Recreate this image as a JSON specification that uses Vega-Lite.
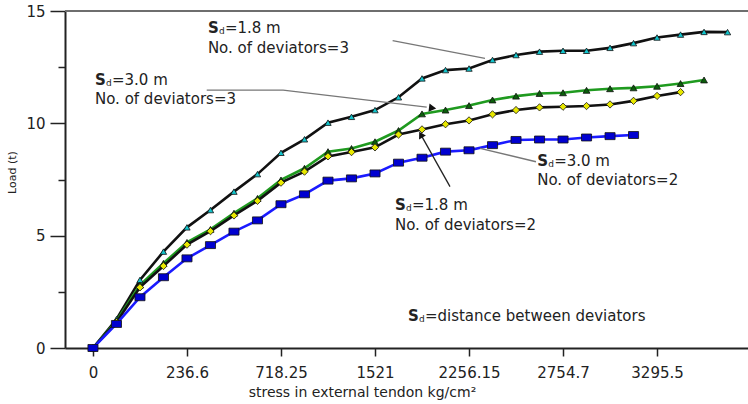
{
  "$schema": "https://vega.github.io/schema/vega-lite/v6.json",
  "width": 683,
  "height": 337,
  "autosize": "none",
  "padding": {"left": 65, "top": 11, "right": 0, "bottom": 56},
  "background": "white",
  "config": {
    "view": {"stroke": null},
    "font": "DejaVu Sans"
  },
  "datasets": {
    "series": [
      {"series": "Sd=1.8 m, 3 deviators", "i": 0, "load": 0},
      {"series": "Sd=1.8 m, 3 deviators", "i": 1, "load": 1.28},
      {"series": "Sd=1.8 m, 3 deviators", "i": 2, "load": 3.03},
      {"series": "Sd=1.8 m, 3 deviators", "i": 3, "load": 4.29},
      {"series": "Sd=1.8 m, 3 deviators", "i": 4, "load": 5.37},
      {"series": "Sd=1.8 m, 3 deviators", "i": 5, "load": 6.14},
      {"series": "Sd=1.8 m, 3 deviators", "i": 6, "load": 6.96},
      {"series": "Sd=1.8 m, 3 deviators", "i": 7, "load": 7.74},
      {"series": "Sd=1.8 m, 3 deviators", "i": 8, "load": 8.69},
      {"series": "Sd=1.8 m, 3 deviators", "i": 9, "load": 9.29},
      {"series": "Sd=1.8 m, 3 deviators", "i": 10, "load": 10.03},
      {"series": "Sd=1.8 m, 3 deviators", "i": 11, "load": 10.29},
      {"series": "Sd=1.8 m, 3 deviators", "i": 12, "load": 10.59},
      {"series": "Sd=1.8 m, 3 deviators", "i": 13, "load": 11.16},
      {"series": "Sd=1.8 m, 3 deviators", "i": 14, "load": 12.0},
      {"series": "Sd=1.8 m, 3 deviators", "i": 15, "load": 12.37},
      {"series": "Sd=1.8 m, 3 deviators", "i": 16, "load": 12.44},
      {"series": "Sd=1.8 m, 3 deviators", "i": 17, "load": 12.82},
      {"series": "Sd=1.8 m, 3 deviators", "i": 18, "load": 13.04},
      {"series": "Sd=1.8 m, 3 deviators", "i": 19, "load": 13.19},
      {"series": "Sd=1.8 m, 3 deviators", "i": 20, "load": 13.23},
      {"series": "Sd=1.8 m, 3 deviators", "i": 21, "load": 13.23},
      {"series": "Sd=1.8 m, 3 deviators", "i": 22, "load": 13.36},
      {"series": "Sd=1.8 m, 3 deviators", "i": 23, "load": 13.57},
      {"series": "Sd=1.8 m, 3 deviators", "i": 24, "load": 13.82},
      {"series": "Sd=1.8 m, 3 deviators", "i": 25, "load": 13.95},
      {"series": "Sd=1.8 m, 3 deviators", "i": 26, "load": 14.07},
      {"series": "Sd=1.8 m, 3 deviators", "i": 27, "load": 14.06},
      {"series": "Sd=3.0 m, 3 deviators", "i": 0, "load": 0},
      {"series": "Sd=3.0 m, 3 deviators", "i": 1, "load": 1.2},
      {"series": "Sd=3.0 m, 3 deviators", "i": 2, "load": 2.8},
      {"series": "Sd=3.0 m, 3 deviators", "i": 3, "load": 3.77},
      {"series": "Sd=3.0 m, 3 deviators", "i": 4, "load": 4.7},
      {"series": "Sd=3.0 m, 3 deviators", "i": 5, "load": 5.28},
      {"series": "Sd=3.0 m, 3 deviators", "i": 6, "load": 6.0},
      {"series": "Sd=3.0 m, 3 deviators", "i": 7, "load": 6.66},
      {"series": "Sd=3.0 m, 3 deviators", "i": 8, "load": 7.48},
      {"series": "Sd=3.0 m, 3 deviators", "i": 9, "load": 8.0},
      {"series": "Sd=3.0 m, 3 deviators", "i": 10, "load": 8.74},
      {"series": "Sd=3.0 m, 3 deviators", "i": 11, "load": 8.88},
      {"series": "Sd=3.0 m, 3 deviators", "i": 12, "load": 9.18},
      {"series": "Sd=3.0 m, 3 deviators", "i": 13, "load": 9.68},
      {"series": "Sd=3.0 m, 3 deviators", "i": 14, "load": 10.42},
      {"series": "Sd=3.0 m, 3 deviators", "i": 15, "load": 10.59},
      {"series": "Sd=3.0 m, 3 deviators", "i": 16, "load": 10.79},
      {"series": "Sd=3.0 m, 3 deviators", "i": 17, "load": 11.04},
      {"series": "Sd=3.0 m, 3 deviators", "i": 18, "load": 11.21},
      {"series": "Sd=3.0 m, 3 deviators", "i": 19, "load": 11.33},
      {"series": "Sd=3.0 m, 3 deviators", "i": 20, "load": 11.36},
      {"series": "Sd=3.0 m, 3 deviators", "i": 21, "load": 11.47},
      {"series": "Sd=3.0 m, 3 deviators", "i": 22, "load": 11.54},
      {"series": "Sd=3.0 m, 3 deviators", "i": 23, "load": 11.58},
      {"series": "Sd=3.0 m, 3 deviators", "i": 24, "load": 11.65},
      {"series": "Sd=3.0 m, 3 deviators", "i": 25, "load": 11.77},
      {"series": "Sd=3.0 m, 3 deviators", "i": 26, "load": 11.93},
      {"series": "Sd=1.8 m, 2 deviators", "i": 0, "load": 0},
      {"series": "Sd=1.8 m, 2 deviators", "i": 1, "load": 1.15},
      {"series": "Sd=1.8 m, 2 deviators", "i": 2, "load": 2.7},
      {"series": "Sd=1.8 m, 2 deviators", "i": 3, "load": 3.65},
      {"series": "Sd=1.8 m, 2 deviators", "i": 4, "load": 4.6},
      {"series": "Sd=1.8 m, 2 deviators", "i": 5, "load": 5.2},
      {"series": "Sd=1.8 m, 2 deviators", "i": 6, "load": 5.9},
      {"series": "Sd=1.8 m, 2 deviators", "i": 7, "load": 6.55},
      {"series": "Sd=1.8 m, 2 deviators", "i": 8, "load": 7.36},
      {"series": "Sd=1.8 m, 2 deviators", "i": 9, "load": 7.85},
      {"series": "Sd=1.8 m, 2 deviators", "i": 10, "load": 8.53},
      {"series": "Sd=1.8 m, 2 deviators", "i": 11, "load": 8.72},
      {"series": "Sd=1.8 m, 2 deviators", "i": 12, "load": 8.93},
      {"series": "Sd=1.8 m, 2 deviators", "i": 13, "load": 9.5},
      {"series": "Sd=1.8 m, 2 deviators", "i": 14, "load": 9.73},
      {"series": "Sd=1.8 m, 2 deviators", "i": 15, "load": 9.96},
      {"series": "Sd=1.8 m, 2 deviators", "i": 16, "load": 10.13},
      {"series": "Sd=1.8 m, 2 deviators", "i": 17, "load": 10.4},
      {"series": "Sd=1.8 m, 2 deviators", "i": 18, "load": 10.59},
      {"series": "Sd=1.8 m, 2 deviators", "i": 19, "load": 10.71},
      {"series": "Sd=1.8 m, 2 deviators", "i": 20, "load": 10.74},
      {"series": "Sd=1.8 m, 2 deviators", "i": 21, "load": 10.77},
      {"series": "Sd=1.8 m, 2 deviators", "i": 22, "load": 10.84},
      {"series": "Sd=1.8 m, 2 deviators", "i": 23, "load": 11.0},
      {"series": "Sd=1.8 m, 2 deviators", "i": 24, "load": 11.22},
      {"series": "Sd=1.8 m, 2 deviators", "i": 25, "load": 11.39},
      {"series": "Sd=3.0 m, 2 deviators", "i": 0, "load": 0},
      {"series": "Sd=3.0 m, 2 deviators", "i": 1, "load": 1.07},
      {"series": "Sd=3.0 m, 2 deviators", "i": 2, "load": 2.26},
      {"series": "Sd=3.0 m, 2 deviators", "i": 3, "load": 3.15},
      {"series": "Sd=3.0 m, 2 deviators", "i": 4, "load": 3.99},
      {"series": "Sd=3.0 m, 2 deviators", "i": 5, "load": 4.58},
      {"series": "Sd=3.0 m, 2 deviators", "i": 6, "load": 5.18},
      {"series": "Sd=3.0 m, 2 deviators", "i": 7, "load": 5.68},
      {"series": "Sd=3.0 m, 2 deviators", "i": 8, "load": 6.4},
      {"series": "Sd=3.0 m, 2 deviators", "i": 9, "load": 6.84},
      {"series": "Sd=3.0 m, 2 deviators", "i": 10, "load": 7.45},
      {"series": "Sd=3.0 m, 2 deviators", "i": 11, "load": 7.55},
      {"series": "Sd=3.0 m, 2 deviators", "i": 12, "load": 7.77},
      {"series": "Sd=3.0 m, 2 deviators", "i": 13, "load": 8.25},
      {"series": "Sd=3.0 m, 2 deviators", "i": 14, "load": 8.47},
      {"series": "Sd=3.0 m, 2 deviators", "i": 15, "load": 8.74},
      {"series": "Sd=3.0 m, 2 deviators", "i": 16, "load": 8.8},
      {"series": "Sd=3.0 m, 2 deviators", "i": 17, "load": 9.03},
      {"series": "Sd=3.0 m, 2 deviators", "i": 18, "load": 9.26},
      {"series": "Sd=3.0 m, 2 deviators", "i": 19, "load": 9.28},
      {"series": "Sd=3.0 m, 2 deviators", "i": 20, "load": 9.28},
      {"series": "Sd=3.0 m, 2 deviators", "i": 21, "load": 9.37},
      {"series": "Sd=3.0 m, 2 deviators", "i": 22, "load": 9.43},
      {"series": "Sd=3.0 m, 2 deviators", "i": 23, "load": 9.48}
    ],
    "grayLeaders": [
      {"id": "a", "ord": 0, "i": 12.75, "load": 13.68},
      {"id": "a", "ord": 1, "i": 16.68, "load": 12.89},
      {"id": "b", "ord": 0, "i": 4.84, "load": 11.48},
      {"id": "b", "ord": 1, "i": 8.09, "load": 11.48},
      {"id": "b", "ord": 2, "i": 14.2, "load": 10.72},
      {"id": "c", "ord": 0, "i": 16.47, "load": 8.89},
      {"id": "c", "ord": 1, "i": 18.85, "load": 8.29}
    ],
    "blackLeaders": [
      {"id": "d", "ord": 0, "i": 15.19, "load": 7.18},
      {"id": "d", "ord": 1, "i": 13.95, "load": 9.5}
    ],
    "sdLabels": [
      {"i": 4.89, "load": 14.24, "rest": "=1.8 m"},
      {"i": 0.085, "load": 11.93, "rest": "=3.0 m"},
      {"i": 18.9, "load": 8.32, "rest": "=3.0 m"},
      {"i": 12.85, "load": 6.36, "rest": "=1.8 m"},
      {"i": 13.4, "load": 1.42, "rest": "=distance between deviators"}
    ],
    "plainLabels": [
      {"i": 4.89, "load": 13.35, "text": "No. of deviators=3"},
      {"i": 0.085, "load": 11.08, "text": "No. of deviators=3"},
      {"i": 18.9, "load": 7.48, "text": "No. of deviators=2"},
      {"i": 12.85, "load": 5.47, "text": "No. of deviators=2"}
    ]
  },
  "data": {"name": "series"},
  "layer": [
    {
      "mark": {"type": "rule", "color": "#6e6e6e", "strokeWidth": 2},
      "encoding": {"y": {"datum": 15, "type": "quantitative"}}
    },
    {
      "mark": {"type": "line", "strokeWidth": 2.6},
      "encoding": {
        "x": {
          "field": "i",
          "type": "quantitative",
          "scale": {"domain": [-1.19, 27.87], "nice": false, "zero": false},
          "axis": {
            "values": [0, 4, 8, 12, 16, 20, 24],
            "labelExpr": "['0','236.6','718.25','1521','2256.15','2754.7','3295.5'][datum.value/4]",
            "title": "stress in external tendon kg/cm²",
            "titleFont": "DejaVu Sans",
            "titleFontSize": 14,
            "titleFontWeight": "normal",
            "titleColor": "#222",
            "titleX": 297,
            "titleY": 44,
            "titleBaseline": "middle",
            "titleAnchor": null,
            "titleAlign": "center",
            "labelFont": "DejaVu Sans",
            "labelFontSize": 15,
            "labelColor": "#222",
            "labelPadding": 9,
            "tickSize": 8,
            "tickColor": "#222",
            "tickWidth": 1.5,
            "domainColor": "#222",
            "domainWidth": 2,
            "grid": false
          }
        },
        "y": {
          "field": "load",
          "type": "quantitative",
          "scale": {"domain": [0, 15], "nice": false},
          "axis": {
            "values": [0, 2.5, 5, 7.5, 10, 12.5, 15],
            "labelExpr": "datum.value % 5 === 0 ? datum.label : ''",
            "title": "Load (t)",
            "titleFont": "DejaVu Sans",
            "titleFontSize": 11,
            "titleFontWeight": "normal",
            "titleColor": "#222",
            "titleX": -53,
            "titleY": 161,
            "titleAngle": -90,
            "titleAlign": "center",
            "titleBaseline": "middle",
            "labelFont": "DejaVu Sans",
            "labelFontSize": 15,
            "labelColor": "#222",
            "labelPadding": 5,
            "tickSize": {"condition": {"test": "datum.value % 5 !== 0", "value": 7}, "value": 15},
            "tickColor": "#222",
            "tickWidth": 1.5,
            "domainColor": "#222",
            "domainWidth": 2,
            "grid": false
          }
        },
        "color": {
          "field": "series",
          "type": "nominal",
          "scale": {
            "domain": ["Sd=3.0 m, 2 deviators", "Sd=1.8 m, 2 deviators", "Sd=3.0 m, 3 deviators", "Sd=1.8 m, 3 deviators"],
            "range": ["#1a1aff", "#111111", "#1f9a1f", "#111111"]
          },
          "legend": null
        },
        "order": {"field": "i", "type": "quantitative"}
      }
    },
    {
      "mark": {"type": "point", "filled": true, "stroke": "#111", "strokeWidth": 0.8, "opacity": 1},
      "encoding": {
        "x": {"field": "i", "type": "quantitative"},
        "y": {"field": "load", "type": "quantitative"},
        "fill": {
          "field": "series",
          "type": "nominal",
          "scale": {
            "domain": ["Sd=3.0 m, 2 deviators", "Sd=1.8 m, 2 deviators", "Sd=3.0 m, 3 deviators", "Sd=1.8 m, 3 deviators"],
            "range": ["#0000d0", "#e8e800", "#0b5e0b", "#12c4cc"]
          },
          "legend": null
        },
        "shape": {
          "field": "series",
          "type": "nominal",
          "scale": {
            "domain": ["Sd=3.0 m, 2 deviators", "Sd=1.8 m, 2 deviators", "Sd=3.0 m, 3 deviators", "Sd=1.8 m, 3 deviators"],
            "range": ["M-1.3,-0.9L1.3,-0.9L1.3,0.9L-1.3,0.9Z", "diamond", "triangle-up", "triangle-up"]
          },
          "legend": null
        },
        "size": {
          "field": "series",
          "type": "nominal",
          "scale": {
            "domain": ["Sd=3.0 m, 2 deviators", "Sd=1.8 m, 2 deviators", "Sd=3.0 m, 3 deviators", "Sd=1.8 m, 3 deviators"],
            "range": [60, 40, 45, 30]
          },
          "legend": null
        }
      }
    },
    {
      "data": {"name": "grayLeaders"},
      "mark": {"type": "line", "color": "#777777", "strokeWidth": 1.3},
      "encoding": {
        "x": {"field": "i", "type": "quantitative"},
        "y": {"field": "load", "type": "quantitative"},
        "detail": {"field": "id"},
        "order": {"field": "ord", "type": "quantitative"}
      }
    },
    {
      "data": {"name": "blackLeaders"},
      "mark": {"type": "line", "color": "#222222", "strokeWidth": 1.3},
      "encoding": {
        "x": {"field": "i", "type": "quantitative"},
        "y": {"field": "load", "type": "quantitative"},
        "detail": {"field": "id"},
        "order": {"field": "ord", "type": "quantitative"}
      }
    },
    {
      "data": {"values": [{"i": 14.45, "load": 10.68}]},
      "mark": {"type": "point", "shape": "triangle-right", "filled": true, "color": "#111", "size": 70, "angle": 7, "opacity": 1},
      "encoding": {
        "x": {"field": "i", "type": "quantitative"},
        "y": {"field": "load", "type": "quantitative"}
      }
    },
    {
      "data": {"values": [{"i": 13.95, "load": 9.5}]},
      "mark": {"type": "point", "shape": "triangle-up", "filled": true, "color": "#111", "size": 60, "angle": -29, "opacity": 1},
      "encoding": {
        "x": {"field": "i", "type": "quantitative"},
        "y": {"field": "load", "type": "quantitative"}
      }
    },
    {
      "data": {"name": "sdLabels"},
      "mark": {"type": "text", "text": "S", "font": "DejaVu Sans", "fontSize": 15, "fontWeight": "bold", "align": "left", "baseline": "middle", "color": "#222"},
      "encoding": {
        "x": {"field": "i", "type": "quantitative"},
        "y": {"field": "load", "type": "quantitative"}
      }
    },
    {
      "data": {"name": "sdLabels"},
      "mark": {"type": "text", "text": "d", "font": "DejaVu Sans", "fontSize": 9, "align": "left", "baseline": "middle", "dx": 11, "dy": 3, "color": "#222"},
      "encoding": {
        "x": {"field": "i", "type": "quantitative"},
        "y": {"field": "load", "type": "quantitative"}
      }
    },
    {
      "data": {"name": "sdLabels"},
      "mark": {"type": "text", "font": "DejaVu Sans", "fontSize": 15, "align": "left", "baseline": "middle", "dx": 17, "color": "#222"},
      "encoding": {
        "x": {"field": "i", "type": "quantitative"},
        "y": {"field": "load", "type": "quantitative"},
        "text": {"field": "rest"}
      }
    },
    {
      "data": {"name": "plainLabels"},
      "mark": {"type": "text", "font": "DejaVu Sans", "fontSize": 15, "align": "left", "baseline": "middle", "color": "#222"},
      "encoding": {
        "x": {"field": "i", "type": "quantitative"},
        "y": {"field": "load", "type": "quantitative"},
        "text": {"field": "text"}
      }
    }
  ]
}
